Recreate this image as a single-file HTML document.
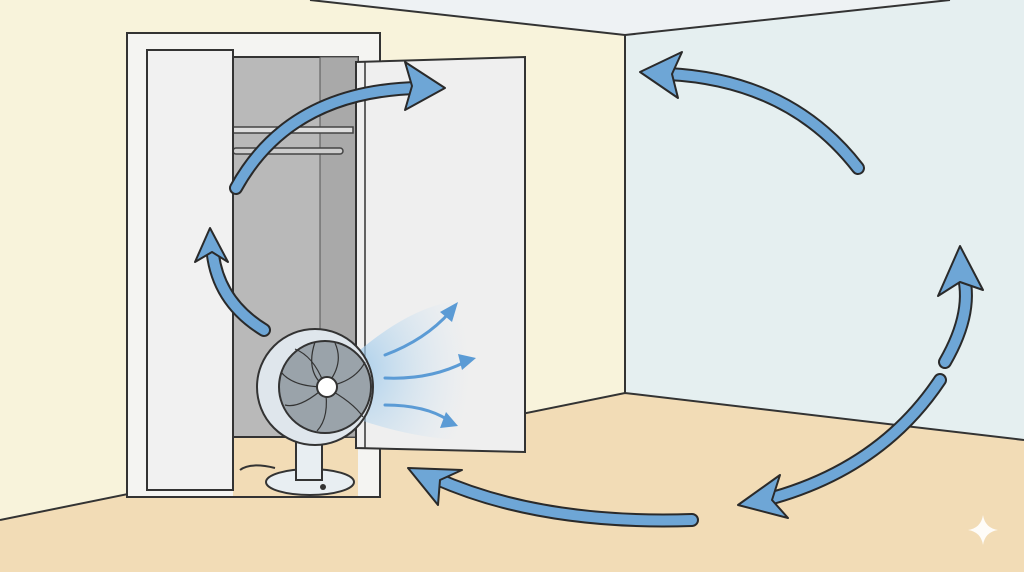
<!DOCTYPE html>
<html><head><meta charset="utf-8"><style>html,body{margin:0;padding:0;background:#eef2f4}svg{display:block}</style></head>
<body>
<svg width="1024" height="572" viewBox="0 0 1024 572" xmlns="http://www.w3.org/2000/svg">
<defs>
<radialGradient id="air" cx="0" cy="0.5" r="1">
<stop offset="0" stop-color="#9cc8ea" stop-opacity="0.8"/>
<stop offset="1" stop-color="#cfe5f5" stop-opacity="0"/>
</radialGradient>
</defs>
<rect width="1024" height="572" fill="#eef2f4"/>
<polygon points="0,520 625,393 1024,440 1024,572 0,572" fill="#f2dcb6"/>
<polygon points="0,0 310,0 625,35 625,393 0,520" fill="#f8f3db"/>
<polygon points="625,35 950,0 1024,0 1024,440 625,393" fill="#e5eff0"/>
<g stroke="#333" stroke-width="2" fill="none">
<polyline points="310,0 625,35 950,0"/>
<line x1="625" y1="35" x2="625" y2="393"/>
<polyline points="0,520 625,393 1024,440"/>
</g>
<!-- closet -->
<rect x="127" y="33" width="253" height="464" fill="#f4f4f2" stroke="#333" stroke-width="2"/>
<rect x="233" y="437" width="125" height="59" fill="#f2dcb6"/>
<line x1="233" y1="437" x2="358" y2="437" stroke="#333" stroke-width="1.5"/>
<rect x="233" y="57" width="125" height="380" fill="#b9b9b9" stroke="#333" stroke-width="2"/>
<rect x="320" y="57" width="38" height="380" fill="#a9a9a9" stroke="#555" stroke-width="1"/>
<rect x="233" y="127" width="120" height="6" fill="#ddd" stroke="#444" stroke-width="1.5"/>
<rect x="233" y="148" width="110" height="6" rx="3" fill="#ccc" stroke="#444" stroke-width="1.5"/>
<rect x="147" y="50" width="86" height="440" fill="#f1f1f1" stroke="#333" stroke-width="2"/>
<polygon points="356,62 525,57 525,452 356,448" fill="#efefef" stroke="#333" stroke-width="2"/>
<line x1="365" y1="62" x2="365" y2="448" stroke="#333" stroke-width="1.5"/>
<path d="M360,350 Q420,300 470,300 L470,440 Q420,440 360,420 Z" fill="url(#air)"/>
<!-- fan -->
<path d="M240,470 Q250,462 275,468" stroke="#333" stroke-width="2" fill="none"/>
<ellipse cx="310" cy="482" rx="44" ry="13" fill="#e8eef2" stroke="#333" stroke-width="2"/>
<rect x="296" y="430" width="26" height="50" fill="#e8eef2" stroke="#333" stroke-width="2"/>
<circle cx="323" cy="487" r="3" fill="#333"/>
<circle cx="315" cy="387" r="58" fill="#dfe6ec" stroke="#333" stroke-width="2"/>
<circle cx="325" cy="387" r="46" fill="#9aa3aa" stroke="#333" stroke-width="2"/>
<g stroke="#333" stroke-width="1.2" fill="none">
<path d="M325,387 q-10,-30 -30,-38"/><path d="M325,387 q20,-22 10,-44"/><path d="M325,387 q30,-5 40,-25"/>
<path d="M325,387 q28,15 38,30"/><path d="M325,387 q5,30 -8,44"/><path d="M325,387 q-25,22 -40,18"/>
<path d="M325,387 q-32,0 -44,-15"/><path d="M325,387 q-20,-15 -10,-45"/>
</g>
<circle cx="327" cy="387" r="10" fill="#fff" stroke="#333" stroke-width="2"/>
<g stroke-linecap="round" fill="none">
<g stroke="#2a2a2a" stroke-width="14">
<path d="M236,188 Q290,90 420,88"/>
<path d="M858,168 Q790,80 668,74"/>
<path d="M264,330 Q215,300 212,245"/>
<path d="M945,362 Q975,310 962,270"/>
<path d="M940,380 Q880,470 765,500"/>
<path d="M692,520 Q540,525 435,478"/>
</g>
<g stroke="#6ea6d6" stroke-width="10">
<path d="M236,188 Q290,90 420,88"/>
<path d="M858,168 Q790,80 668,74"/>
<path d="M264,330 Q215,300 212,245"/>
<path d="M945,362 Q975,310 962,270"/>
<path d="M940,380 Q880,470 765,500"/>
<path d="M692,520 Q540,525 435,478"/>
</g>
</g>
<g fill="#6ea6d6" stroke="#2a2a2a" stroke-width="2" stroke-linejoin="round">
<polygon points="445,88 405,62 412,86 405,110"/>
<polygon points="640,72 682,52 672,74 678,98"/>
<polygon points="210,228 195,262 212,252 228,262"/>
<polygon points="960,246 938,296 960,282 983,290"/>
<polygon points="738,505 780,475 772,500 788,518"/>
<polygon points="408,468 438,505 440,480 462,470"/>
</g>
<g stroke="#5b9bd5" stroke-width="3" fill="none" stroke-linecap="round">
<path d="M385,355 Q425,340 450,312"/>
<path d="M385,378 Q430,380 465,362"/>
<path d="M385,405 Q425,405 448,420"/>
</g>
<g fill="#5b9bd5">
<polygon points="458,302 440,312 452,322"/>
<polygon points="476,358 458,354 462,370"/>
<polygon points="458,426 446,412 440,428"/>
</g>
<path d="M983,515 Q985,528 998,530 Q985,532 983,545 Q981,532 968,530 Q981,528 983,515Z" fill="#fff" opacity="0.9"/>
</svg>
</body></html>
